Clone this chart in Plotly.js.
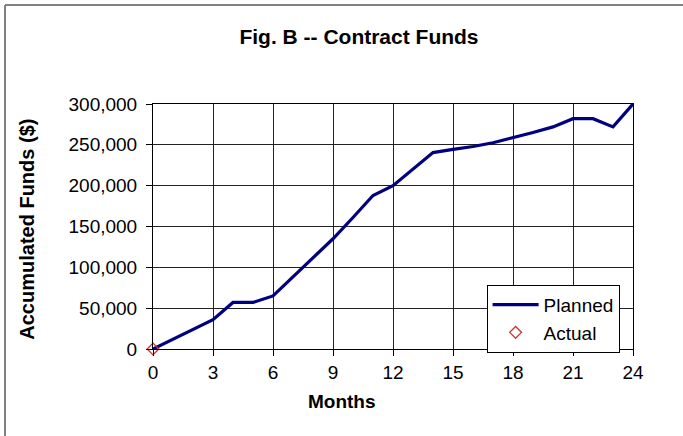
<!DOCTYPE html>
<html>
<head>
<meta charset="utf-8">
<script src="https://cdn.plot.ly/plotly-3.0.1.min.js"></script>
<style>
  html, body { margin: 0; padding: 0; background: #fff; }
  #chart { width: 683px; height: 436px; }
</style>
</head>
<body>
<div id="chart"></div>
<script>
// ---- data ----
var months = [0, 1, 2, 3, 4, 5, 6, 7, 8, 9, 10, 11, 12, 13, 14, 15, 16, 17, 18, 19, 20, 21, 22, 23, 24];
var planned = [0, 12000, 24000, 36000, 57000, 57000, 65000, 88000, 111000, 135000, 161000, 188000, 200000,
               220000, 240500, 244500, 248000, 252500, 258500, 265000, 272000, 282000, 282000, 272000, 300000];
var actualMonths = [0];
var actual = [0];
var xTicks = [0, 3, 6, 9, 12, 15, 18, 21, 24];
var yTicks = [0, 50000, 100000, 150000, 200000, 250000, 300000];
var yTickText = ['0', '50,000', '100,000', '150,000', '200,000', '250,000', '300,000'];
var xTitle = 'Months';
var yTitle = 'Accumulated Funds ($)';
var chartTitle = 'Fig. B -- Contract Funds';

var FONT = 'Arial, "Liberation Sans", sans-serif';

var traces = [
  {
    x: months, y: planned, name: 'Planned', type: 'scatter', mode: 'lines',
    line: { color: '#000080', width: 3.2 },
    cliponaxis: false
  },
  {
    x: actualMonths, y: actual, name: 'Actual', type: 'scatter', mode: 'markers',
    marker: { symbol: 'diamond-open', color: '#CC3333', size: 9, line: { width: 1.3, color: '#CC3333' } },
    cliponaxis: false
  }
];

var layout = {
  width: 683, height: 436,
  margin: { l: 153, r: 50, t: 104, b: 87 },
  paper_bgcolor: '#ffffff', plot_bgcolor: '#ffffff',
  font: { family: FONT, color: '#000', size: 19 },
  title: {
    text: '<b>' + chartTitle + '</b>',
    font: { family: FONT, size: 21, color: '#000' },
    xref: 'container', yref: 'container',
    x: 0.5256, xanchor: 'center', y: 0.917, yanchor: 'middle'
  },
  xaxis: {
    range: [0, 24], tickvals: xTicks, ticktext: xTicks.map(String),
    showgrid: true, gridcolor: '#222', gridwidth: 1,
    showline: true, linecolor: '#000', linewidth: 1, mirror: true,
    ticks: 'outside', ticklen: 6, tickcolor: '#000',
    zeroline: false,
    tickfont: { family: FONT, size: 19, color: '#000' },
    automargin: false, fixedrange: true
  },
  yaxis: {
    range: [0, 300000], tickvals: yTicks, ticktext: yTickText,
    showgrid: true, gridcolor: '#222', gridwidth: 1,
    showline: true, linecolor: '#000', linewidth: 1, mirror: true,
    ticks: 'outside', ticklen: 6, tickcolor: '#000',
    ticklabelstandoff: 5,
    zeroline: false,
    tickfont: { family: FONT, size: 19, color: '#000' },
    automargin: false, fixedrange: true
  },
  annotations: [
    { text: '<b>' + xTitle + '</b>', xref: 'paper', yref: 'paper', x: 0.394, y: -0.216,
      xanchor: 'center', yanchor: 'middle', showarrow: false,
      font: { family: FONT, size: 19, color: '#000' } },
    { text: '<b>' + yTitle + '</b>', xref: 'paper', yref: 'paper', x: -0.263, y: 0.49,
      xanchor: 'center', yanchor: 'middle', showarrow: false, textangle: -90,
      font: { family: FONT, size: 20, color: '#000' } }
  ],
  showlegend: true,
  legend: {
    x: 0.695, y: 0.262, xanchor: 'left', yanchor: 'top',
    bgcolor: '#ffffff', bordercolor: '#000', borderwidth: 1,
    font: { family: FONT, size: 19, color: '#000' },
    itemwidth: 46
  },
  shapes: [
    { type: 'line', xref: 'paper', yref: 'paper', x0: -0.3083, x1: 1.2, y0: 1.404, y1: 1.404,
      line: { color: '#808080', width: 2 } },
    { type: 'line', xref: 'paper', yref: 'paper', x0: -0.3083, x1: -0.3083, y0: 1.404, y1: -0.4,
      line: { color: '#808080', width: 2 } }
  ]
};

Plotly.newPlot('chart', traces, layout, { staticPlot: true, displayModeBar: false });
</script>
</body>
</html>
